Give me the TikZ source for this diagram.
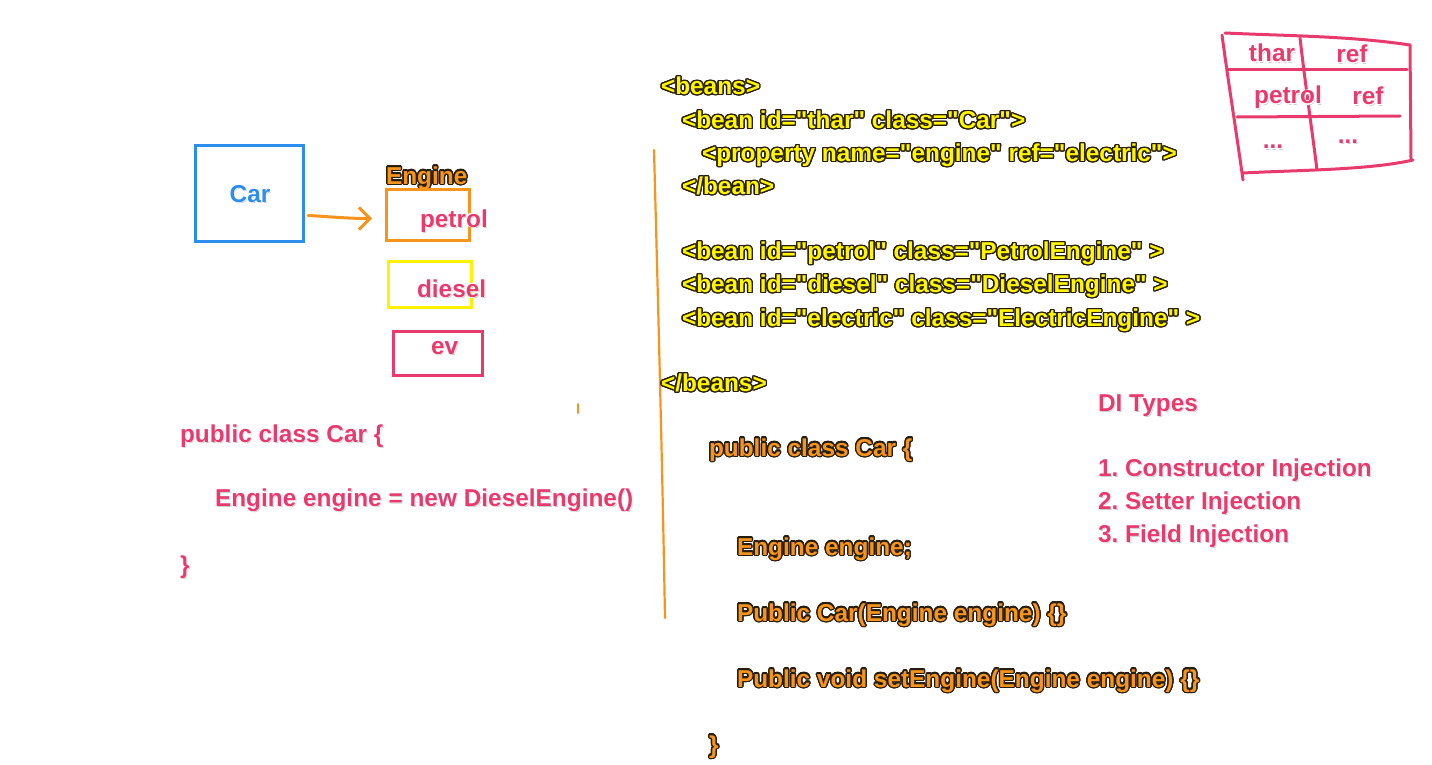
\documentclass[tikz,border=0pt]{standalone}
\usepackage{fontspec}
\setmainfont{Liberation Sans}[Ligatures=TeXOff]
\usepackage{contour}
\contourlength{1.3pt}
\contournumber{24}
\usetikzlibrary{arrows.meta,calc}
\definecolor{blu}{RGB}{44,141,238}
\definecolor{org}{RGB}{247,148,30}
\definecolor{ylw}{RGB}{255,246,0}
\definecolor{ybox}{RGB}{255,242,0}
\definecolor{pnk}{RGB}{233,58,110}
\definecolor{outl}{RGB}{40,30,15}
\definecolor{shd}{RGB}{205,205,205}
\newcommand{\bigf}{\fontsize{24.4}{29}\selectfont\bfseries\frenchspacing}
\newcommand{\ol}[1]{\contour{outl}{#1}}
\newcommand{\sh}[1]{\rlap{\hspace*{1.2pt}\raisebox{-1.6pt}{\textcolor{shd}{#1}}}{\contourlength{0.9pt}\contour{white}{#1}}}
\begin{document}
\begin{tikzpicture}[x=1pt,y=-1pt,
  every node/.style={inner sep=0pt, outer sep=0pt},
  yx/.style={anchor=base west, text=ylw, font=\bigf},
  oc/.style={anchor=base west, text=org, font=\bigf},
  pk/.style={anchor=base west, text=pnk, font=\bigf},
  pkc/.style={anchor=base, text=pnk, font=\bigf},
  boxst/.style={draw, line width=3pt, inner sep=0pt},
  pen/.style={line width=3pt, line cap=round, line join=round}
]
\useasboundingbox (0,0) rectangle (1432,765);

% left diagram
\node[boxst, draw=blu, minimum width=108pt, minimum height=95pt] (car) at (249,193.5) {};
\node[anchor=base, text=blu, font=\bigf] (cartxt) at (250,202) {\sh{Car}};
\node[anchor=base west, text=org, font=\bigf] (engtxt) at (386,184) {\ol{Engine}};
\node[boxst, draw=org, minimum width=83pt, minimum height=51pt] (pbox) at (427.5,214.5) {};
\node[boxst, draw=ybox, minimum width=83pt, minimum height=46pt] (dbox) at (429.5,284) {};
\node[boxst, draw=pnk, minimum width=89pt, minimum height=44pt] (ebox) at (437.5,353) {};
\node[pk] (ptxt) at (420,227) {\sh{petrol}};
\node[pk] (dtxt) at (417,297) {\sh{diesel}};
\node[pk] (etxt) at (431,354) {\sh{ev}};
\draw[pen, draw=org, -{Straight Barb[length=11pt,width=22pt,line width=3pt]}]
  ([shift={(5,22)}]car.east) to[out=-3,in=180] ([shift={(-14,4)}]pbox.west);

\draw[pen, draw=org, line width=2pt] (578,404) -- (578,413);

% left code
\node[pk] (l1) at (180,442) {\sh{public class Car \{}};
\node[pk] (l2) at (215,506) {\sh{Engine engine = new DieselEngine()}};
\node[pk] (l3) at (180,573) {\sh{\}}};

% divider
\draw[pen, draw=org, line width=2.2pt] (654,150) .. controls (658,300) and (662,450) .. (665,618);

% xml
\node[yx] (x1) at (661,94.5) {\ol{<beans>}};
\node[yx] (x2) at (682,128.5) {\ol{<bean id="thar" class="Car">}};
\node[yx] (x3) at (702,161.5) {\ol{<property name="engine" ref="electric">}};
\node[yx] (x4) at (682,194.5) {\ol{</bean>}};
\node[yx] (x5) at (682,259.5) {\ol{<bean id="petrol" class="PetrolEngine" >}};
\node[yx] (x6) at (682,292.5) {\ol{<bean id="diesel" class="DieselEngine" >}};
\node[yx] (x7) at (682,326.5) {\ol{<bean id="electric" class="ElectricEngine" >}};
\node[yx] (x8) at (661,391.5) {\ol{</beans>}};

% java
\node[oc] (j1) at (709,456) {\ol{public class Car \{}};
\node[oc] (j2) at (737,555) {\ol{Engine engine;}};
\node[oc] (j3) at (737,621) {\ol{Public Car(Engine engine) \{\}}};
\node[oc] (j4) at (737,687) {\ol{Public void setEngine(Engine engine) \{\}}};
\node[oc] (j5) at (709,753) {\ol{\}}};

% DI types
\node[pk] (d0) at (1098,411) {\sh{DI Types}};
\node[pk] (d1) at (1098,476) {\sh{1. Constructor Injection}};
\node[pk] (d2) at (1098,509) {\sh{2. Setter Injection}};
\node[pk] (d3) at (1098,542) {\sh{3. Field Injection}};

% table
\draw[pen, draw=pnk] (1222,35) .. controls (1228,80) and (1236,130) .. (1243,180);
\draw[pen, draw=pnk] (1225,33) .. controls (1290,36) and (1350,36) .. (1410,45);
\draw[pen, draw=pnk] (1410,45) -- (1411,160);
\draw[pen, draw=pnk] (1243,173) .. controls (1300,170) and (1370,170) .. (1413,160);
\draw[pen, draw=pnk] (1300,38) .. controls (1306,90) and (1312,130) .. (1317,170);
\draw[pen, draw=pnk] (1228,70) -- (1407,70);
\draw[pen, draw=pnk] (1237,117) -- (1400,116);
\node[pkc] (t1) at (1272,62) {\sh{thar}};
\node[pkc] (t2) at (1352,63) {\sh{ref}};
\node[pkc] (t3) at (1288,104) {\sh{petrol}};
\node[pkc] (t4) at (1368,105) {\sh{ref}};
\node[pkc] (t5) at (1273,149) {\sh{...}};
\node[pkc] (t6) at (1348,143) {\sh{...}};
\end{tikzpicture}
\end{document}
